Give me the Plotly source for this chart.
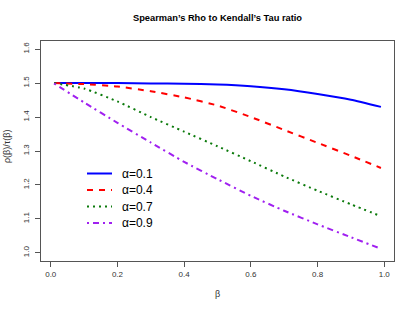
import plotly.graph_objects as go

beta = [0.01, 0.1, 0.2, 0.3, 0.4, 0.5, 0.6, 0.7, 0.8, 0.9, 0.99]
ratio_a01 = [1.500, 1.500, 1.500, 1.499, 1.498, 1.496, 1.491, 1.482, 1.468, 1.451, 1.430]
ratio_a04 = [1.500, 1.497, 1.490, 1.476, 1.458, 1.434, 1.400, 1.362, 1.324, 1.286, 1.250]
ratio_a07 = [1.500, 1.484, 1.446, 1.400, 1.357, 1.314, 1.270, 1.225, 1.183, 1.143, 1.108]
ratio_a09 = [1.499, 1.443, 1.383, 1.325, 1.268, 1.217, 1.168, 1.124, 1.084, 1.046, 1.012]

series_names = ["α=0.1", "α=0.4", "α=0.7", "α=0.9"]
series_vals = [ratio_a01, ratio_a04, ratio_a07, ratio_a09]
colors = ["#0000FF", "#FF0000", "#0B7A0B", "#A020F0"]
dashes = ["solid", "6px,6px", "2px,4px", "2px,4px,6px,4px"]

xticks = [0.0, 0.2, 0.4, 0.6, 0.8, 1.0]
yticks = [1.0, 1.1, 1.2, 1.3, 1.4, 1.5, 1.6]

W, H = 415, 312
L, R, T, B = 41, 21, 41, 51
FONT = "Liberation Sans, Arial, sans-serif"

fig = go.Figure()
for name, vals, c, d in zip(series_names, series_vals, colors, dashes):
    fig.add_trace(go.Scatter(
        x=beta, y=vals, mode="lines", name=name, showlegend=False,
        line=dict(color=c, width=2, dash=d, shape="spline", smoothing=0.5),
    ))

axis_common = dict(
    showline=True, linecolor="#555555", linewidth=1, mirror=True,
    ticks="outside", ticklen=5, tickcolor="#555555",
    showgrid=False, zeroline=False, automargin=False,
    tickfont=dict(family=FONT, size=8, color="#333333"),
)

# manual legend (R style, no box)
pw, ph = W - L - R, H - T - B
def px_to_paper_x(px):
    return (px - L) / pw
def py_to_paper_y(py):
    return 1 - (py - T) / ph

shapes, annotations = [], []
for i, (name, c, d) in enumerate(zip(series_names, colors, dashes)):
    yy = py_to_paper_y(173.5 + 16.5 * i)
    shapes.append(dict(type="line", xref="paper", yref="paper",
                       x0=px_to_paper_x(87), x1=px_to_paper_x(112), y0=yy, y1=yy,
                       line=dict(color=c, width=2, dash=d)))
    annotations.append(dict(xref="paper", yref="paper", x=px_to_paper_x(120), y=yy,
                            xanchor="left", yanchor="middle", showarrow=False,
                            text=name, font=dict(family=FONT, size=12, color="black")))

# axis titles as annotations for exact placement
annotations.append(dict(xref="paper", yref="paper", x=px_to_paper_x(217), y=py_to_paper_y(293.5),
                        xanchor="center", yanchor="middle", showarrow=False,
                        text="β", font=dict(family=FONT, size=9, color="#333333")))
annotations.append(dict(xref="paper", yref="paper", x=px_to_paper_x(7), y=py_to_paper_y(146),
                        xanchor="center", yanchor="middle", showarrow=False, textangle=-90,
                        text="ρ(β)/τ(β)", font=dict(family=FONT, size=9, color="#333333")))

fig.update_layout(
    width=W, height=H,
    margin=dict(l=L, r=R, t=T, b=B),
    paper_bgcolor="white", plot_bgcolor="white",
    showlegend=False,
    title=dict(
        text="<b>Spearman’s Rho to Kendall’s Tau ratio</b>",
        x=(L + (W - R)) / 2 / W, xanchor="center", y=1 - 18 / H, yanchor="middle",
        font=dict(family=FONT, size=9.3, color="black"),
    ),
    xaxis=dict(
        range=[-0.0292, 1.0292], tickvals=xticks,
        ticktext=[f"{v:.1f}" for v in xticks],
        **axis_common,
    ),
    yaxis=dict(
        range=[0.976, 1.624], tickvals=yticks,
        ticktext=[f"{v:.1f}" for v in yticks], tickangle=-90,
        ticklabelstandoff=3,
        **axis_common,
    ),
    shapes=shapes,
    annotations=annotations,
)

fig.write_html("out.html", config={"displayModeBar": False, "staticPlot": True},
               post_script="document.body.style.margin='0px';")
